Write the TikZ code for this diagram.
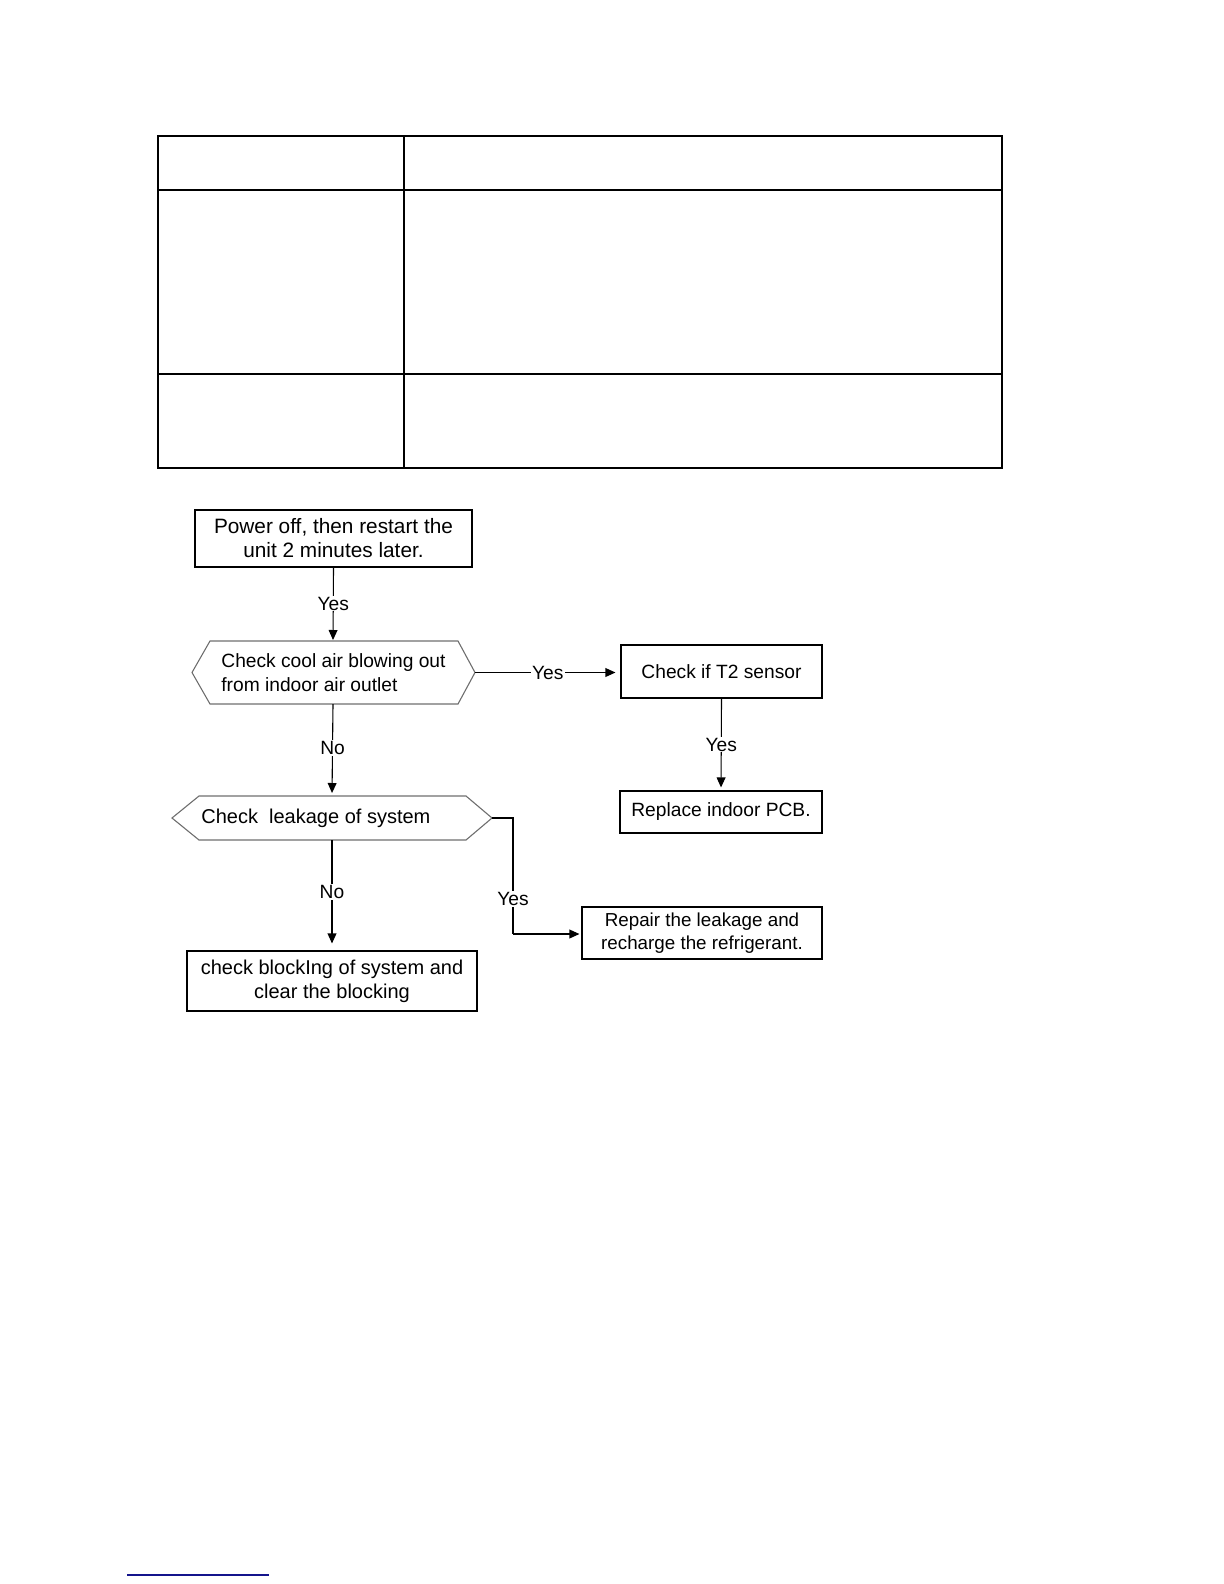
\documentclass[tikz,border=0pt]{standalone}
\usepackage{fontspec}
\setmainfont{Liberation Sans}
\usetikzlibrary{arrows.meta}
\definecolor{hexgray}{RGB}{110,110,110}
\definecolor{linkblue}{RGB}{20,20,140}
\tikzset{
  tbl/.style={line width=0.6pt, black},
  boxnode/.style={draw=black, line width=0.55pt, inner sep=0pt, align=center},
  hexline/.style={draw=hexgray, line width=0.55pt},
  conn/.style={line width=0.55pt, -{Triangle[length=5pt,width=4.4pt]}},
  plain/.style={line width=0.55pt},
  lbl/.style={fill=white, inner sep=0.6pt, font=\fontsize{9.6pt}{11pt}\selectfont}
}
\begin{document}
\begin{tikzpicture}[x=0.5pt,y=-0.5pt]
\useasboundingbox (0,0) rectangle (1224,1584);
% table
\draw[tbl] (158,136) rectangle (1002,468);
\draw[tbl] (158,190) -- (1002,190);
\draw[tbl] (158,374) -- (1002,374);
\draw[tbl] (404,136) -- (404,468);

% box 1
\node[boxnode, minimum width=138.5pt, minimum height=28.5pt,
  font=\fontsize{10.4pt}{12pt}\selectfont] (b1) at (333.5,538.5)
  {Power off, then restart the\\unit 2 minutes later.};

% hexagon 1
\coordinate (h1l) at (192,672.5);
\coordinate (h1r) at (475,672.5);
\coordinate (h1t) at (333,641);
\coordinate (h1b) at (333,704);
\draw[hexline] (h1l) -- (210,641) -- (458,641) -- (h1r) -- (458,704) -- (210,704) -- cycle;
\node[anchor=west, align=left, inner sep=0pt, font=\fontsize{9.6pt}{12pt}\selectfont] (h1txt) at (221,672.5)
  {Check cool air blowing out\\from indoor air outlet};

% hexagon 2
\coordinate (h2l) at (172,818);
\coordinate (h2r) at (492,818);
\coordinate (h2t) at (332,796);
\coordinate (h2b) at (332,840);
\draw[hexline] (h2l) -- (199,796) -- (466,796) -- (h2r) -- (466,840) -- (199,840) -- cycle;
\node[anchor=west, align=left, inner sep=0pt, font=\fontsize{10pt}{12pt}\selectfont] (h2txt) at (201,818)
  {Check\ \ leakage of system};

% right side boxes
\node[boxnode, minimum width=100.5pt, minimum height=26.5pt,
  font=\fontsize{9.6pt}{11.5pt}\selectfont] (t2) at (721.5,671.5) {Check if T2 sensor};
\node[boxnode, minimum width=101pt, minimum height=21pt,
  font=\fontsize{9.6pt}{11.5pt}\selectfont] (pcb) at (721,812) {Replace indoor PCB.};
\node[boxnode, minimum width=120pt, minimum height=26pt,
  font=\fontsize{9.4pt}{11.6pt}\selectfont] (rep) at (702,933)
  {Repair the leakage and\\recharge the refrigerant.};
\node[boxnode, minimum width=145pt, minimum height=30pt,
  font=\fontsize{10pt}{12pt}\selectfont] (blk) at (332,981)
  {check blockIng of system and\\clear the blocking};

% connectors
\draw[conn, shorten >=0.5pt] (b1.south) -- node[lbl, pos=0.49] {Yes} (h1t);
\draw[conn, shorten >=2.5pt] (h1r) -- node[lbl, pos=0.5] {Yes} (t2.west |- h1r);
\draw[conn, shorten >=1.5pt] (h1b) -- node[lbl, pos=0.48] {No} (h2t);
\draw[conn, shorten >=1.5pt] (t2.south) -- node[lbl, pos=0.5] {Yes} (pcb.north);
\draw[conn, shorten >=3.5pt] (h2b) -- node[lbl, pos=0.47] {No} (blk.north);
\coordinate (c1) at (513,818);
\coordinate (c2) at (513,934);
\draw[plain] (h2r) -- (c1) -- node[lbl, pos=0.7] {Yes} (c2);
\draw[conn, shorten >=1pt] (c2) -- (rep.west |- c2);

% bottom link line
\coordinate (bl1) at (127,1575);
\coordinate (bl2) at (269,1575);
\draw[linkblue, line width=0.8pt] (bl1) -- (bl2);
\end{tikzpicture}
\end{document}
